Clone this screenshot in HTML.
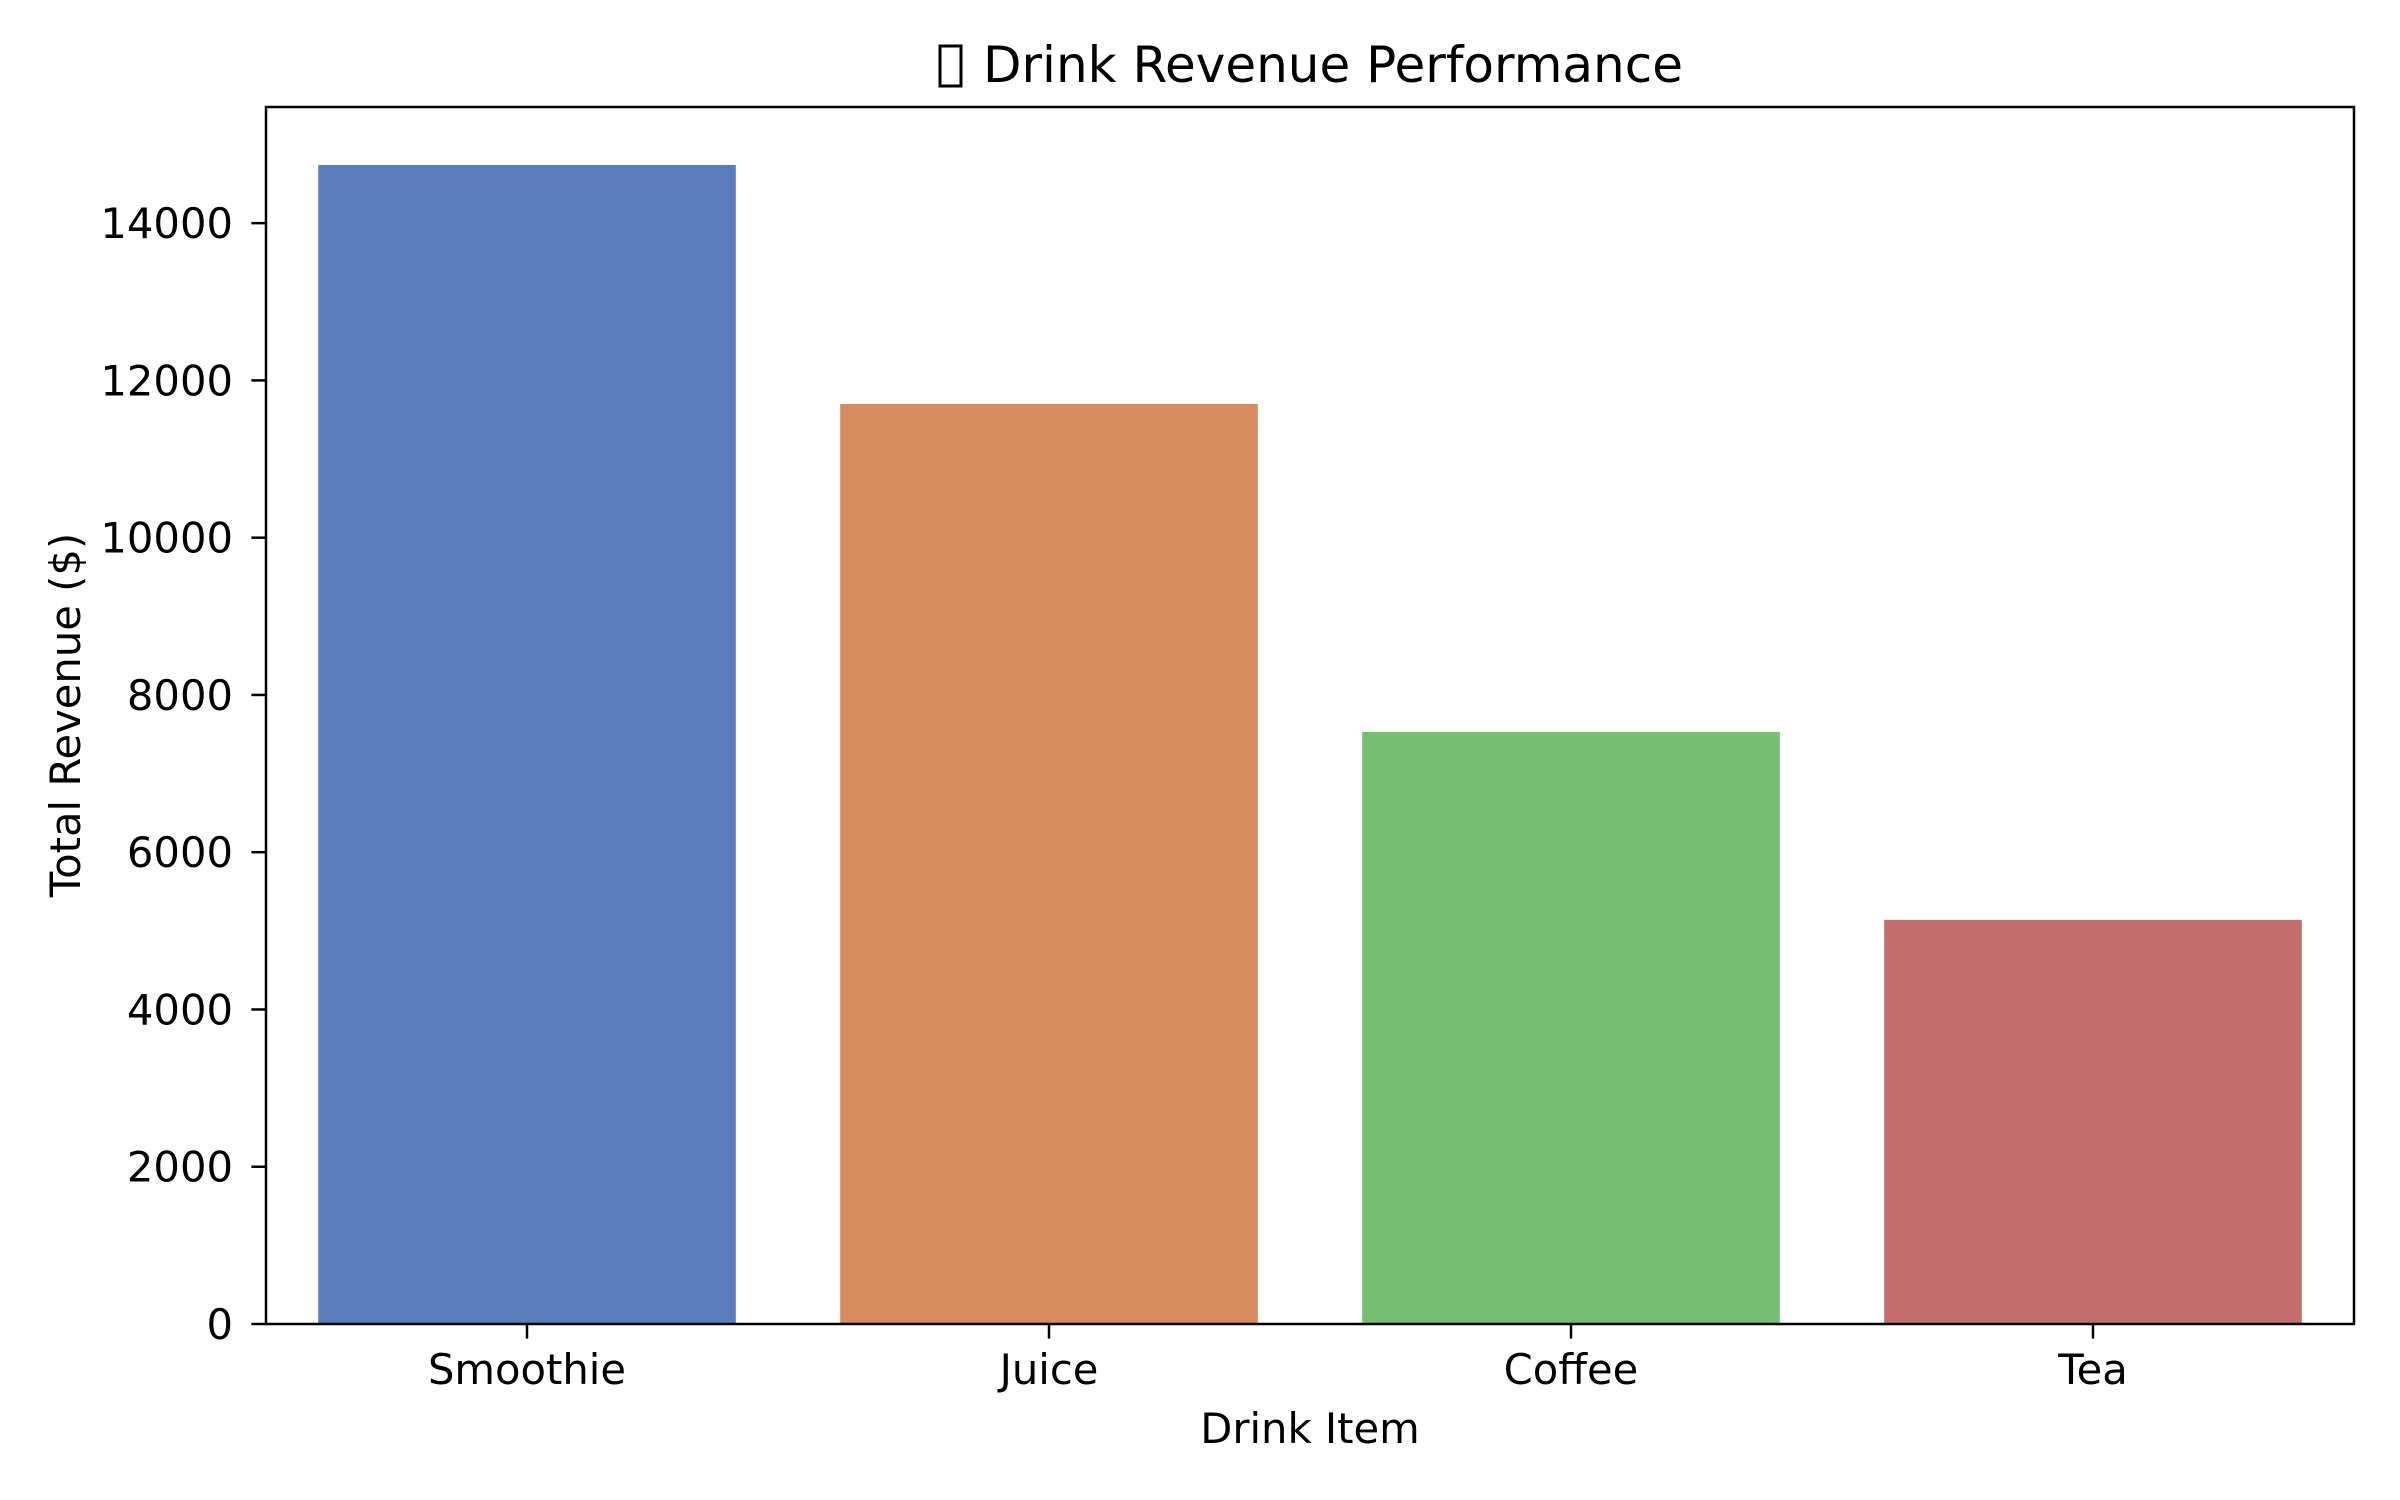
<!DOCTYPE html>
<html><head><meta charset="utf-8"><style>
html,body{margin:0;padding:0;background:#fff;}
svg{display:block;font-family:"DejaVu Sans","Liberation Sans",sans-serif;}
</style></head><body>
<svg id="chart" width="2400" height="1500" viewBox="0 0 2400 1500">
<rect width="2400" height="1500" fill="#fff"/>
<g id="title">
<rect x="940" y="46" width="21" height="40" fill="none" stroke="#000" stroke-width="3"/>
<text x="1333" y="82" font-size="50" text-anchor="middle" fill="#000">Drink Revenue Performance</text>
</g>
<g id="bars"></g>
<g id="yticks"></g>
<g id="xticks"></g>
<rect x="266" y="107" width="2088" height="1217" fill="none" stroke="#000" stroke-width="2.5"/>
<text x="1310" y="1443" font-size="41.7" text-anchor="middle">Drink Item</text>
<text transform="translate(80,715) rotate(-90)" font-size="41.7" text-anchor="middle">Total Revenue ($)</text>
</svg>
<script>
const categories = ["Smoothie","Juice","Coffee","Tea"];
const revenues = [14740, 11700, 7530, 5140];
const barColors = ["#5b7dbe","#d88b5f","#77bf70","#c56d6d"];
const yTicks = [0,2000,4000,6000,8000,10000,12000,14000];

const NS="http://www.w3.org/2000/svg";
const L=266,R=2354,T=107,B=1324;
const yMax=15477;
const y=v=>B-(v/yMax)*(B-T);
const step=(R-L)/categories.length;
const xc=i=>L+step*(i+0.5);
const bw=step*0.8;

const bars=document.getElementById('bars');
categories.forEach((c,i)=>{
  const r=document.createElementNS(NS,'rect');
  r.setAttribute('x',xc(i)-bw/2);
  r.setAttribute('y',y(revenues[i]));
  r.setAttribute('width',bw);
  r.setAttribute('height',B-y(revenues[i]));
  r.setAttribute('fill',barColors[i]);
  
  
  bars.appendChild(r);
});

const yt=document.getElementById('yticks');
yTicks.forEach(v=>{
  const l=document.createElementNS(NS,'line');
  l.setAttribute('x1',L-14.6);l.setAttribute('x2',L);
  l.setAttribute('y1',y(v));l.setAttribute('y2',y(v));
  l.setAttribute('stroke','#000');l.setAttribute('stroke-width','2.5');
  
  
  yt.appendChild(l);
  const t=document.createElementNS(NS,'text');
  t.setAttribute('x',L-33);t.setAttribute('y',y(v)+15);
  t.setAttribute('font-size','41.7');t.setAttribute('text-anchor','end');
  t.textContent=String(v);
  
  
  yt.appendChild(t);
});

const xt=document.getElementById('xticks');
categories.forEach((c,i)=>{
  const l=document.createElementNS(NS,'line');
  l.setAttribute('x1',xc(i));l.setAttribute('x2',xc(i));
  l.setAttribute('y1',B);l.setAttribute('y2',B+14.6);
  l.setAttribute('stroke','#000');l.setAttribute('stroke-width','2.5');
  
  
  xt.appendChild(l);
  const t=document.createElementNS(NS,'text');
  t.setAttribute('x',xc(i));t.setAttribute('y',B+60);
  t.setAttribute('font-size','41.7');t.setAttribute('text-anchor','middle');
  t.textContent=c;
  
  
  xt.appendChild(t);
});
</script>
</body></html>
